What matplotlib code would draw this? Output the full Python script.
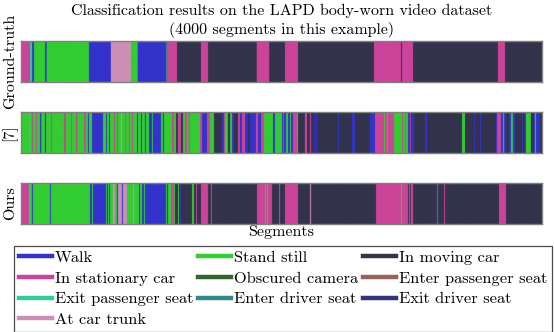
import numpy as np
import matplotlib.pyplot as plt
from matplotlib.colors import ListedColormap
from matplotlib.lines import Line2D

plt.rcParams['font.family'] = 'cmr10'
plt.rcParams['mathtext.fontset'] = 'cm'
plt.rcParams['axes.unicode_minus'] = False

n_segments = 4000

class_names = ['Walk', 'Stand still', 'In moving car', 'In stationary car',
               'Obscured camera', 'Enter passenger seat', 'Exit passenger seat',
               'Enter driver seat', 'Exit driver seat', 'At car trunk']
class_colors = ['#3333cc', '#33cc33', '#33334d', '#cc4499', '#336633',
                '#996060', '#33cc99', '#338888', '#333380', '#cc8fb5']

# run starts (segment index) and class of each run
gt_starts = [0, 70, 85, 100, 185, 197, 522, 690, 845, 896, 1113, 1126, 1198,
             1382, 1436, 1810, 1906, 2027, 2127, 2710, 2918, 2926, 3010, 3662, 3716]
gt_labels = [3, 6, 0, 1, 0, 1, 0, 9, 1, 0, 7, 3, 2,
             3, 2, 3, 2, 3, 2, 3, 2, 3, 2, 3, 2]

ref7_starts = [0, 61, 69, 84, 92, 115, 123, 146, 156, 184, 192, 230, 238, 330, 345,
               384, 392, 422, 432, 484, 499, 514, 522, 545, 630, 653, 660, 676, 683,
               714, 722, 737, 745, 768, 775, 799, 806, 829, 837, 852, 860, 891, 898,
               921, 929, 952, 959, 983, 1006, 1013, 1075, 1090, 1098, 1159, 1175,
               1190, 1205, 1228, 1244, 1259, 1274, 1287, 1297, 1374, 1390, 1428,
               1451, 1482, 1543, 1559, 1566, 1589, 1605, 1620, 1635, 1666, 1681,
               1697, 1720, 1743, 1758, 1804, 1820, 1843, 1866, 1935, 1950, 2004,
               2012, 2019, 2035, 2050, 2065, 2073, 2088, 2119, 2127, 2180, 2196,
               2219, 2227, 2250, 2257, 2265, 2273, 2434, 2441, 2541, 2564, 2679,
               2718, 2787, 2795, 2810, 2818, 2864, 2925, 2933, 2948, 2956, 2971,
               2987, 2994, 3002, 3017, 3102, 3117, 3386, 3409, 3478, 3485, 3524,
               3532, 3647, 3655, 3685, 3701, 3709, 3724, 3747, 3762, 3777, 3793,
               3846, 3854, 3869, 3877, 3915, 3938, 3946, 3954, 3985]
ref7_labels = [1, 6, 1, 3, 1, 3, 1, 0, 1, 0, 1, 3, 1, 3, 1,
               3, 1, 3, 1, 3, 1, 0, 1, 0, 1, 0, 1, 0, 1,
               3, 1, 3, 1, 9, 1, 3, 1, 3, 1, 3, 1, 0, 1,
               0, 1, 0, 1, 0, 1, 0, 1, 0, 1, 3, 1,
               2, 3, 2, 1, 3, 1, 3, 1, 3, 0, 3,
               1, 2, 0, 3, 1, 2, 1, 0, 2, 3, 0,
               3, 0, 2, 0, 3, 0, 3, 1, 0, 1, 0,
               3, 0, 1, 0, 1, 0, 3, 1, 2, 3, 2,
               3, 2, 0, 2, 0, 2, 0, 2, 0, 2, 0,
               3, 1, 3, 1, 3, 1, 3, 1, 3, 1, 0,
               3, 2, 0, 2, 0, 2, 1, 2, 0, 2, 0,
               2, 0, 3, 0, 1, 0, 2, 0, 1, 0, 2,
               0, 2, 0, 1, 2, 0, 1, 0, 2]

ours_starts = [0, 61, 69, 84, 92, 223, 230, 530, 545, 553, 653, 660, 668, 676, 683,
               706, 722, 737, 745, 775, 783, 814, 860, 868, 906, 914, 929, 944, 952,
               1113, 1121, 1129, 1152, 1175, 1182, 1205, 1213, 1221, 1228, 1313,
               1328, 1344, 1351, 1382, 1436, 1459, 1466, 1812, 1873, 1881, 1889,
               1896, 1927, 1981, 1989, 2027, 2127, 2219, 2227, 2726, 2917, 2925,
               2971, 2979, 2987, 2994, 3010, 3194, 3202, 3248, 3255, 3670, 3724]
ours_labels = [3, 6, 1, 0, 1, 0, 1, 0, 1, 0, 1, 0, 1, 0, 1,
               9, 1, 0, 9, 0, 9, 1, 9, 1, 0, 1, 0, 1, 0,
               1, 0, 1, 3, 1, 2, 1, 2, 0, 2, 1,
               2, 3, 2, 3, 2, 3, 2, 3, 1, 3, 1,
               3, 2, 3, 2, 3, 2, 9, 2, 3, 1, 3,
               2, 3, 2, 3, 2, 7, 2, 3, 2, 3, 2]

row_names = ['Ground-truth', '[7]', 'Ours']


def expand(starts, labels):
    seq = np.zeros(n_segments, dtype=int)
    bounds = list(starts) + [n_segments]
    for s, e, c in zip(bounds[:-1], bounds[1:], labels):
        seq[s:e] = c
    return seq


rows = [expand(gt_starts, gt_labels), expand(ref7_starts, ref7_labels),
        expand(ours_starts, ours_labels)]

cmap = ListedColormap(class_colors)

fig = plt.figure(figsize=(5.54, 3.32), dpi=100)
bottoms = [0.752, 0.538, 0.325]
axes = []
for b, seq, name in zip(bottoms, rows, row_names):
    ax = fig.add_axes([0.038, b, 0.9404, 0.1245])
    ax.imshow(seq[np.newaxis, :], cmap=cmap, vmin=-0.5, vmax=len(class_names) - 0.5,
              aspect='auto', extent=(0, n_segments, 0, 1),
              interpolation='auto', interpolation_stage='rgba')
    ax.set_xticks([])
    ax.set_yticks([])
    for sp in ax.spines.values():
        sp.set_color('0.5')
        sp.set_linewidth(1.0)
    ax.set_ylabel(name, fontsize=11.5, labelpad=3)
    axes.append(ax)

axes[0].set_title('Classification results on the LAPD body-worn video dataset\n'
                  '(4000 segments in this example)', fontsize=11.5, pad=5,
                  linespacing=1.3)
axes[2].set_xlabel('Segments', fontsize=11.5, labelpad=1)

handles = [Line2D([], [], color=c, lw=3.2) for c in class_colors]
order = [0, 3, 6, 9, 1, 4, 7, 2, 5, 8]
leg = fig.legend([handles[i] for i in order], [class_names[i] for i in order],
                 ncol=3, loc='lower left', bbox_to_anchor=(0.0253, 0.0),
                 fontsize=11.8, fancybox=False, edgecolor='0.3', framealpha=1,
                 handlelength=2.0, handletextpad=0.18, columnspacing=0.32,
                 labelspacing=0.38, borderpad=0.3, borderaxespad=0.0)
leg.get_frame().set_linewidth(0.9)

fig.savefig('out.png', dpi=100)
